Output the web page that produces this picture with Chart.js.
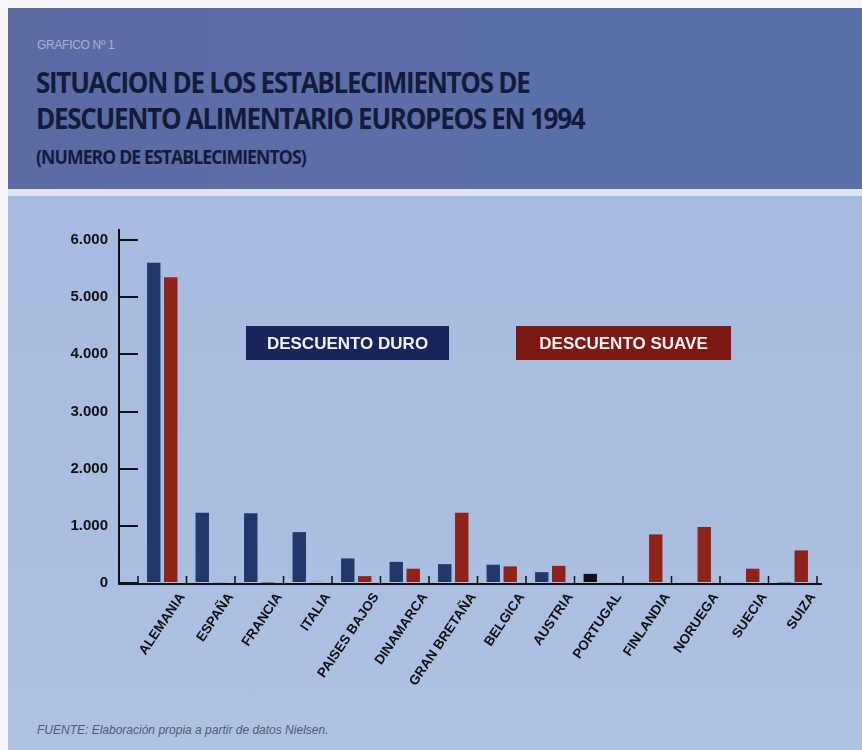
<!DOCTYPE html>
<html>
<head>
<meta charset="utf-8">
<script src="https://cdn.jsdelivr.net/npm/chart.js@4.4.1/dist/chart.umd.min.js"></script>
<style>
  html, body { margin: 0; padding: 0; width: 862px; height: 750px; overflow: hidden; background: #f4f6fa; }
  #cabecera {
    position: absolute; left: 8px; top: 8px; width: 854px; height: 181px;
    background: linear-gradient(90deg, #5a6ba2 0%, #5c70a8 60%, #5a6fa6 100%);
  }
  #cabecera .num {
    position: absolute; left: 29px; top: 30px;
    font: 12px "Liberation Sans", Arial, sans-serif; color: #a7b1d4; letter-spacing: -0.3px;
  }
  #cabecera .titulo {
    position: absolute; left: 28px; top: 56px;
    font: 700 28px "Open Sans", sans-serif; color: #131b3a; line-height: 36px;
    letter-spacing: -1.4px; transform: scaleX(0.93); transform-origin: left top;
  }
  #cabecera .sub {
    position: absolute; left: 28px; top: 136px;
    font: 700 19px "Open Sans", sans-serif; color: #131b3a; line-height: 26px;
    letter-spacing: -1px; transform: scaleX(0.93); transform-origin: left top;
  }
  #franja { position: absolute; left: 8px; top: 189px; width: 854px; height: 7px; background: #dfe6f2; }
  #panel {
    position: absolute; left: 8px; top: 196px; width: 854px; height: 554px;
    background: linear-gradient(180deg, #a6bbdf 0%, #a9bee0 60%, #aec2e3 100%);
  }
  #fuente {
    position: absolute; left: 37px; top: 723px;
    font: italic 12px "Liberation Sans", Arial, sans-serif; color: #4f5a78;
  }
  #grafico { position: absolute; left: 0; top: 0; }
</style>
</head>
<body>
<div id="cabecera">
  <div class="num">GRAFICO Nº 1</div>
  <div class="titulo">SITUACION DE LOS ESTABLECIMIENTOS DE<br>DESCUENTO ALIMENTARIO EUROPEOS EN 1994</div>
  <div class="sub">(NUMERO DE ESTABLECIMIENTOS)</div>
</div>
<div id="franja"></div>
<div id="panel"></div>
<div id="fuente">FUENTE: Elaboración propia a partir de datos Nielsen.</div>
<canvas id="grafico" width="862" height="750"></canvas>

<script>
const paises = ['ALEMANIA', 'ESPAÑA', 'FRANCIA', 'ITALIA', 'PAISES BAJOS', 'DINAMARCA', 'GRAN BRETAÑA',
  'BELGICA', 'AUSTRIA', 'PORTUGAL', 'FINLANDIA', 'NORUEGA', 'SUECIA', 'SUIZA'];
const descuentoDuro = [5600, 1230, 1220, 890, 430, 370, 330, 320, 190, 160, 0, 0, 0, 10];
const descuentoSuave = [5350, 15, 10, 20, 120, 250, 1230, 290, 300, 0, 850, 980, 250, 570];
const ticksY = [0, 1000, 2000, 3000, 4000, 5000, 6000];

const AZUL = '#22386b';
const ROJO = '#8f2219';
const NEGRO = '#121212';

// ejes dibujados a mano: el eje Y va separado del área de barras
const ejes = {
  id: 'ejes',
  afterDatasetsDraw(chart) {
    const { ctx, chartArea: a, scales } = chart;
    const x = scales.x;
    const izq = a.left - 19;
    const paso = x.getPixelForValue(1) - x.getPixelForValue(0);
    ctx.save();
    ctx.strokeStyle = NEGRO;
    ctx.lineWidth = 2;
    ctx.beginPath();
    ctx.moveTo(izq, a.top - 11);
    ctx.lineTo(izq, a.bottom + 1);
    ctx.lineTo(a.right + 5, a.bottom + 1);
    ctx.stroke();
    ctx.lineWidth = 1.5;
    ctx.beginPath();
    for (let i = 0; i <= paises.length; i++) {
      const px = x.getPixelForValue(0) - paso / 2 + i * paso;
      ctx.moveTo(px, a.bottom);
      ctx.lineTo(px, a.bottom - 7);
    }
    ctx.stroke();
    ctx.restore();
  }
};

// cajas de leyenda con el nombre de cada serie
const leyenda = {
  id: 'leyendaCajas',
  afterDraw(chart, args, opts) {
    const { ctx } = chart;
    ctx.save();
    ctx.font = 'bold 17px "Liberation Sans", Arial, sans-serif';
    ctx.textAlign = 'center';
    ctx.textBaseline = 'middle';
    chart.data.datasets.forEach((ds, i) => {
      const c = opts.cajas[i];
      ctx.fillStyle = c.color;
      ctx.fillRect(c.x, c.y, c.w, c.h);
      ctx.fillStyle = '#f2f2f4';
      ctx.fillText(ds.label, c.x + c.w / 2, c.y + c.h / 2 + 1);
    });
    ctx.restore();
  }
};

new Chart(document.getElementById('grafico'), {
  type: 'bar',
  data: {
    labels: paises,
    datasets: [
      {
        label: 'DESCUENTO DURO',
        data: descuentoDuro,
        backgroundColor: ctx => paises[ctx.dataIndex] === 'PORTUGAL' ? NEGRO : AZUL,
        barPercentage: 0.79,
        categoryPercentage: 0.70
      },
      {
        label: 'DESCUENTO SUAVE',
        data: descuentoSuave,
        backgroundColor: ROJO,
        barPercentage: 0.79,
        categoryPercentage: 0.70
      }
    ]
  },
  options: {
    responsive: false,
    animation: false,
    devicePixelRatio: 1,
    layout: { padding: { top: 240, left: 0, right: 45, bottom: 57 } },
    plugins: {
      legend: { display: false },
      tooltip: { enabled: false },
      leyendaCajas: {
        cajas: [
          { x: 246, y: 326, w: 203, h: 34, color: '#16255a' },
          { x: 516, y: 326, w: 215, h: 34, color: '#7b1913' }
        ]
      }
    },
    scales: {
      x: {
        afterFit: s => { s.height = 110; },
        grid: { display: false, drawTicks: false },
        border: { display: false },
        ticks: {
          autoSkip: false,
          minRotation: 56,
          maxRotation: 56,
          labelOffset: 20,
          padding: 7,
          color: '#111',
          font: { family: '"Liberation Sans", Arial, sans-serif', size: 13.5, weight: 'bold' }
        }
      },
      y: {
        min: 0,
        max: 6000,
        afterFit: s => { s.width = 138; },
        afterBuildTicks: s => { s.ticks = ticksY.map(v => ({ value: v })); },
        border: { display: false },
        grid: { drawOnChartArea: false, drawTicks: true, tickLength: 19, color: NEGRO, lineWidth: 2 },
        ticks: {
          padding: 11,
          color: '#111',
          font: { family: '"Liberation Sans", Arial, sans-serif', size: 15, weight: 'bold' },
          callback: v => v.toLocaleString('de-DE')
        }
      }
    }
  },
  plugins: [ejes, leyenda]
});
</script>
</body>
</html>
